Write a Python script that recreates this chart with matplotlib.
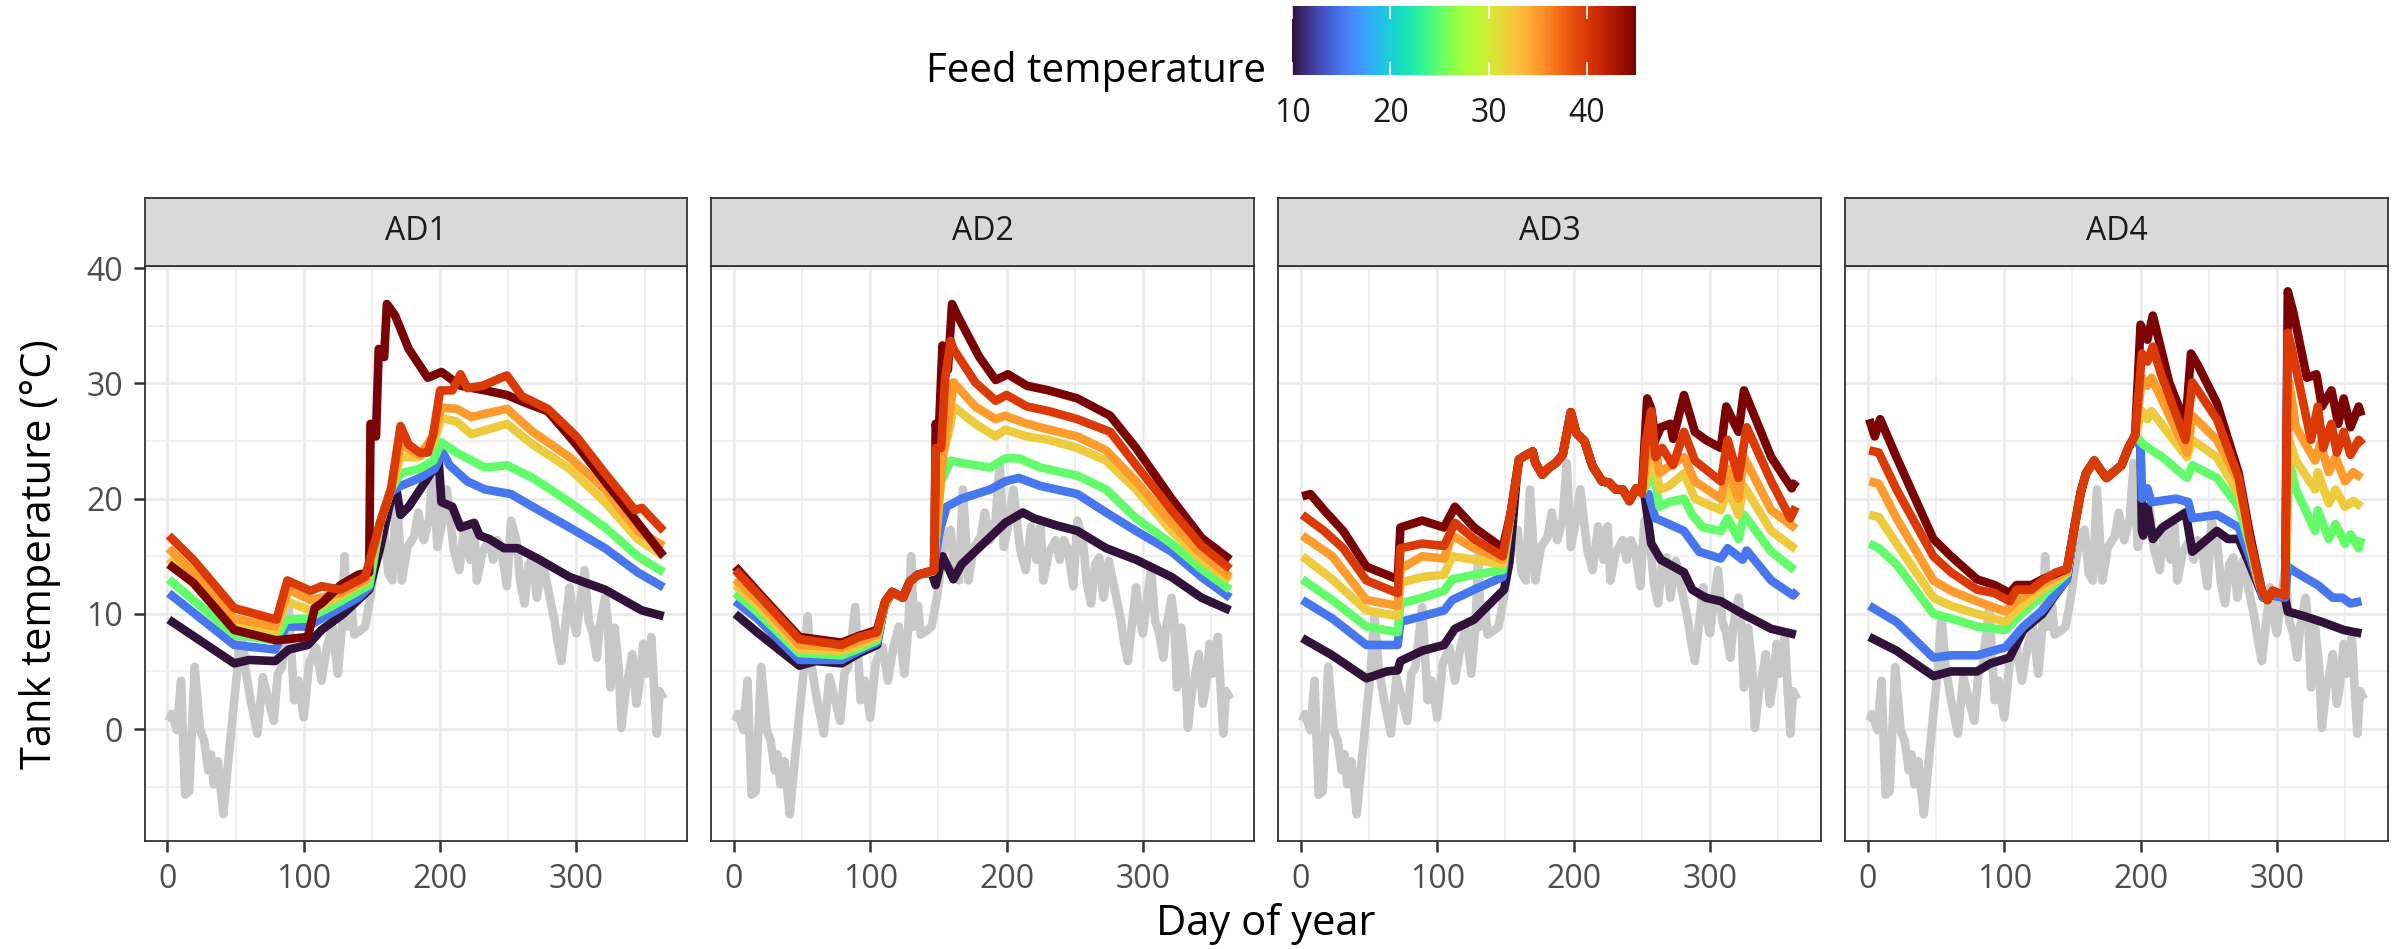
import numpy as np
import matplotlib
matplotlib.use("Agg")
import matplotlib.pyplot as plt
from matplotlib.colors import Normalize
from matplotlib.cm import ScalarMappable

plt.rcParams['font.family'] = ['Open Sans', 'DejaVu Sans']

# ---- data: (day of year, temperature) ----
AMBIENT = [(1, 0.7), (3, 1.3), (7, -0.1), (10, 4.2), (13, -5.7), (16, -5.4), (20, 5.4), (24, -0.1),
           (27, -1.0), (30, -3.6), (32, -2.2), (34, -4.8), (37, -2.8), (41, -7.4), (43, -4.8), (47, 0.1),
           (51, 4.8), (54, 9.8), (57, 5.4), (61, 2.5), (66, -0.4), (70, 4.5), (73, 3.1), (78, 0.7),
           (81, 4.8), (84, 5.4), (89, 10.6), (93, 2.5), (96, 4.2), (100, 1.0), (104, 5.7), (109, 7.1),
           (113, 4.2), (117, 7.1), (121, 8.9), (125, 4.8), (128, 8.9), (130, 15.0), (132, 8.9), (135, 10.7),
           (137, 8.2), (141, 8.5), (145, 8.9), (149, 11.5), (152, 14.1), (156, 17.0), (159, 17.3), (162, 13.5),
           (165, 12.9), (168, 20.8), (172, 12.9), (176, 15.8), (181, 16.7), (184, 18.8), (188, 16.4), (192, 18.2),
           (195, 23.1), (198, 15.8), (201, 17.6), (205, 20.8), (210, 15.6), (214, 13.8), (218, 17.6), (222, 14.7),
           (225, 17.6), (227, 12.9), (231, 15.3), (236, 16.4), (239, 14.7), (242, 16.4), (245, 15.6), (249, 12.4),
           (252, 18.1), (256, 16.4), (259, 12.6), (262, 10.9), (265, 14.3), (268, 14.9), (271, 11.4), (275, 14.6),
           (279, 12.3), (284, 9.4), (286, 7.7), (289, 5.9), (292, 9.1), (295, 12.3), (298, 9.4), (300, 8.3),
           (302, 10.3), (306, 13.8), (309, 9.4), (312, 8.3), (315, 6.2), (317, 8.8), (321, 11.4), (323, 9.4),
           (325, 3.6), (328, 8.8), (331, 5.4), (333, 0.1), (336, 3.3), (338, 4.5), (341, 6.5), (344, 2.2),
           (346, 3.6), (349, 7.4), (351, 4.8), (355, 8.0), (357, 3.6), (359, -0.4), (361, 3.3), (364, 2.6)]

# AD1
AD1_F10 = [(1, 9.5), (20, 8.0), (49, 5.7), (60, 6.0), (79, 5.9), (89, 6.9), (103, 7.3), (113, 8.6), (129, 10.0),
           (148, 12.1), (156, 15.7), (164, 20.0), (168, 20.8), (171, 18.6), (177, 19.3), (191, 21.8), (199, 23.3),
           (201, 19.7), (209, 19.3), (215, 17.5), (225, 17.9), (229, 16.8), (236, 16.5), (247, 15.7), (257, 15.7),
           (273, 14.7), (295, 13.2), (321, 12.1), (348, 10.3), (364, 9.8)]
AD1_F15 = [(1, 11.8), (17, 10.3), (49, 7.3), (79, 6.9), (87, 8.9), (103, 8.9), (119, 10.0), (140, 11.4), (148, 12.3),
           (156, 17.9), (163, 20.5), (171, 21.1), (185, 21.8), (196, 22.6), (202, 24.0), (207, 22.9), (220, 21.5),
           (233, 20.8), (252, 20.4), (268, 19.3), (295, 17.5), (321, 15.7), (345, 13.6), (364, 12.3)]
AD1_F25 = [(1, 13.0), (17, 11.4), (49, 8.2), (79, 7.7), (87, 9.5), (103, 9.6), (121, 10.7), (148, 12.5), (156, 17.9),
           (164, 20.8), (171, 22.2), (185, 22.6), (195, 23.3), (201, 24.9), (212, 24.0), (233, 22.7), (249, 22.9),
           (268, 21.8), (295, 19.7), (321, 17.5), (345, 15.0), (364, 13.6)]
AD1_F30 = [(1, 14.8), (17, 12.9), (49, 8.9), (79, 8.4), (87, 11.1), (105, 10.3), (124, 11.4), (146, 12.9), (156, 17.9),
           (164, 20.8), (171, 23.6), (185, 23.6), (195, 24.8), (201, 27.0), (212, 26.7), (223, 25.6), (249, 26.5),
           (268, 24.7), (295, 22.6), (321, 19.7), (345, 16.5), (364, 15.0)]
AD1_F35 = [(1, 15.7), (17, 13.8), (49, 9.6), (79, 8.9), (89, 12.1), (105, 11.2), (127, 11.8), (146, 13.0), (156, 17.9),
           (164, 20.8), (171, 24.7), (185, 23.8), (195, 25.4), (201, 27.9), (212, 27.8), (223, 27.1), (249, 27.8),
           (268, 25.8), (295, 23.6), (321, 20.8), (345, 17.2), (364, 15.9)]
AD1_F40 = [(1, 16.8), (19, 14.7), (49, 10.5), (80, 9.5), (88, 12.9), (105, 12.0), (113, 12.4), (127, 12.1), (145, 13.2),
           (156, 17.9), (164, 20.8), (171, 26.3), (177, 24.7), (185, 24.0), (191, 24.0), (195, 25.6), (200, 29.4),
           (209, 29.4), (215, 30.8), (220, 29.6), (231, 29.8), (249, 30.7), (260, 28.9), (279, 27.8), (300, 25.4),
           (321, 22.2), (343, 19.0), (348, 19.2), (364, 17.2)]
AD1_F45 = [(1, 14.3), (19, 12.7), (49, 8.6), (80, 7.7), (103, 8.0), (108, 10.5), (113, 10.9), (127, 12.5), (140, 13.4),
           (148, 13.6), (149, 26.5), (153, 25.4), (155, 33.0), (159, 32.3), (161, 36.9), (167, 35.9), (177, 33.0),
           (191, 30.5), (201, 31.0), (215, 29.8), (233, 29.4), (249, 29.0), (263, 28.3), (279, 27.6), (300, 24.7),
           (321, 21.5), (345, 17.9), (364, 15.0)]

# AD2
AD2_EARLY = [(116, 11.9), (124, 11.4), (129, 12.8), (135, 13.4)]
AD2_F10 = [(1, 10.0), (17, 8.4), (48, 5.5), (60, 5.9), (79, 5.7), (92, 6.6), (105, 7.3), (110, 10.5)] + AD2_EARLY + \
          [(145, 13.6), (148, 12.5), (153, 15.0), (158, 13.8), (161, 13.0), (167, 14.3), (183, 16.1), (199, 17.9),
           (212, 18.8), (220, 18.3), (236, 17.7), (252, 17.2), (273, 15.7), (295, 14.7), (321, 13.2), (343, 11.4),
           (364, 10.3)]
AD2_F15 = [(1, 11.1), (17, 9.6), (48, 6.0), (79, 6.0), (92, 6.8), (105, 7.5), (110, 10.5)] + AD2_EARLY + \
          [(146, 13.7), (151, 17.2), (156, 19.3), (167, 20.0), (188, 20.8), (199, 21.5), (209, 21.8), (225, 21.1),
           (252, 20.4), (273, 18.8), (295, 17.2), (321, 15.4), (343, 13.2), (364, 11.4)]
AD2_F25 = [(1, 11.8), (17, 10.2), (48, 6.6), (79, 6.4), (92, 7.0), (105, 7.7), (110, 10.5)] + AD2_EARLY + \
          [(146, 13.7), (152, 21.5), (159, 23.3), (167, 23.1), (188, 22.7), (199, 23.5), (209, 23.5), (225, 22.7),
           (252, 22.0), (273, 20.8), (295, 18.3), (321, 16.1), (343, 13.9), (364, 12.1)]
AD2_F30 = [(1, 12.5), (17, 10.8), (48, 6.9), (79, 6.8), (92, 7.3), (105, 8.0), (110, 10.6)] + AD2_EARLY + \
          [(146, 13.7), (153, 23.6), (159, 26.5), (161, 28.0), (177, 26.5), (192, 25.4), (199, 26.0), (215, 25.4),
           (231, 25.1), (252, 24.4), (273, 23.3), (295, 20.8), (321, 17.2), (343, 14.7), (364, 12.9)]
AD2_F35 = [(1, 13.0), (17, 11.2), (48, 7.3), (79, 7.1), (92, 7.6), (105, 8.2), (110, 10.8)] + AD2_EARLY + \
          [(146, 13.7), (153, 23.3), (159, 28.0), (161, 30.1), (177, 28.0), (192, 26.9), (199, 27.2), (215, 26.5),
           (231, 26.0), (252, 25.4), (273, 24.2), (295, 21.5), (321, 17.9), (343, 15.2), (364, 13.2)]
AD2_F40 = [(1, 13.8), (20, 11.4), (48, 7.8), (79, 7.3), (92, 8.0), (105, 8.4), (111, 11.1)] + AD2_EARLY + \
          [(147, 13.8), (148, 24.4), (152, 24.4), (155, 30.5), (159, 33.7), (161, 33.0), (177, 30.1), (192, 28.5),
           (200, 29.0), (215, 28.0), (231, 27.6), (252, 26.9), (276, 25.8), (295, 22.9), (321, 19.0), (343, 15.9),
           (364, 13.9)]
AD2_F45 = [(1, 14.1), (20, 11.6), (48, 8.0), (79, 7.5), (92, 8.1), (105, 8.6), (111, 11.1)] + AD2_EARLY + \
          [(147, 13.8), (148, 26.5), (150, 25.0), (153, 33.3), (157, 31.2), (160, 36.9), (164, 35.9), (180, 32.3),
           (192, 30.3), (201, 30.8), (215, 29.8), (231, 29.4), (252, 28.7), (276, 27.2), (295, 24.4), (321, 20.0),
           (343, 16.6), (364, 14.7)]

# AD3
AD3_MERGED = [(160, 23.4), (164, 23.7), (170, 24.1), (172, 23.1), (177, 22.1), (182, 22.7), (187, 23.1), (192, 23.8),
              (198, 27.5), (202, 25.7), (208, 25.0), (214, 22.8), (221, 21.5), (226, 21.4), (231, 20.8), (236, 20.8),
              (241, 19.8), (246, 20.9), (250, 20.5)]
AD3_F10 = [(1, 7.9), (23, 6.4), (48, 4.4), (63, 5.0), (71, 5.1), (73, 5.9), (89, 6.8), (105, 7.3), (113, 8.7),
           (127, 9.5), (143, 11.4), (149, 12.1), (153, 14.5), (158, 21.5)] + AD3_MERGED + \
          [(252, 20.4), (257, 16.1), (264, 14.7), (281, 13.6), (287, 12.1), (297, 11.4), (308, 11.1), (324, 10.0),
           (345, 8.7), (363, 8.2)]
AD3_F15 = [(1, 11.2), (23, 9.6), (48, 7.3), (71, 7.3), (73, 9.3), (89, 9.8), (105, 10.3), (111, 11.2), (127, 12.1),
           (148, 13.2), (154, 18.8)] + AD3_MERGED + \
          [(255, 20.4), (260, 18.3), (268, 17.9), (281, 17.2), (292, 15.4), (308, 14.8), (313, 15.7), (324, 14.7),
           (327, 15.5), (345, 12.9), (361, 11.6), (364, 12.0)]
AD3_F25 = [(1, 13.0), (23, 11.2), (48, 8.9), (71, 8.4), (73, 10.9), (89, 11.4), (105, 12.0), (111, 13.0), (127, 13.4),
           (148, 13.8), (154, 18.8)] + AD3_MERGED + \
          [(255, 21.5), (257, 23.6), (263, 19.3), (270, 19.7), (281, 20.0), (287, 18.6), (295, 17.5), (308, 17.2),
           (313, 18.3), (321, 16.5), (325, 18.6), (345, 15.4), (362, 13.8)]
AD3_F30 = [(1, 15.0), (23, 13.0), (48, 10.3), (71, 9.8), (73, 12.7), (89, 13.2), (105, 13.4), (111, 15.0), (127, 14.7),
           (148, 14.3), (154, 18.8)] + AD3_MERGED + \
          [(255, 22.2), (257, 25.0), (263, 20.8), (270, 21.1), (281, 22.2), (289, 20.0), (308, 19.0), (313, 20.8),
           (321, 18.6), (325, 21.1), (345, 17.2), (363, 15.6)]
AD3_F35 = [(1, 16.8), (23, 15.0), (48, 11.2), (71, 10.7), (73, 13.9), (89, 15.0), (105, 14.8), (111, 16.8), (127, 15.7),
           (148, 14.7), (154, 18.8)] + AD3_MERGED + \
          [(254, 24.0), (257, 26.5), (263, 22.2), (271, 22.9), (281, 23.6), (289, 21.5), (308, 20.0), (313, 22.6),
           (321, 20.0), (325, 23.6), (345, 19.0), (363, 17.4)]
AD3_F40 = [(1, 18.6), (17, 17.2), (31, 15.7), (48, 12.9), (71, 11.8), (73, 15.7), (89, 16.1), (105, 15.9), (113, 17.9),
           (127, 16.5), (148, 15.0), (154, 18.8)] + AD3_MERGED + \
          [(253, 25.0), (257, 27.6), (260, 23.6), (265, 24.4), (273, 22.9), (281, 25.8), (289, 23.3), (308, 21.5),
           (313, 25.1), (321, 21.8), (327, 26.2), (345, 21.5), (359, 18.3), (363, 19.3)]
AD3_F45 = [(1, 20.2), (7, 20.4), (17, 19.0), (31, 17.2), (48, 14.1), (71, 13.0), (73, 17.5), (89, 18.1), (105, 17.5),
           (113, 19.3), (127, 17.5), (148, 15.7), (154, 18.8)] + AD3_MERGED + \
          [(254, 28.7), (257, 27.8), (260, 25.1), (264, 26.2), (271, 26.5), (273, 25.2), (281, 29.0), (289, 25.8),
           (297, 25.1), (308, 24.4), (312, 28.0), (321, 25.8), (325, 29.4), (345, 23.6), (360, 20.9), (361, 21.3),
           (364, 21.0)]

# AD4
AD4_MERGED = [(151, 17.2), (156, 20.5), (160, 22.2), (166, 23.3), (170, 22.6), (175, 21.8), (181, 22.4), (186, 22.9),
              (191, 24.4), (196, 25.5)]
AD4_LATE = [(289, 12.0), (293, 11.2), (297, 12.0), (301, 11.8), (306, 11.6)]
AD4_F10 = [(1, 8.0), (21, 6.8), (48, 4.6), (61, 5.0), (80, 5.0), (90, 5.7), (104, 6.2), (114, 8.6), (128, 10.0),
           (136, 11.4), (146, 13.0)] + AD4_MERGED + \
          [(200, 24.5), (201, 17.2), (202, 16.8), (205, 19.3), (209, 16.5), (216, 17.5), (233, 18.8), (238, 15.4),
           (245, 16.1), (256, 17.2), (264, 16.5), (272, 16.5), (280, 14.3), (290, 11.4), (297, 11.6), (306, 11.4),
           (308, 10.2), (320, 9.8), (333, 9.3), (349, 8.6), (362, 8.3)]
AD4_F15 = [(1, 10.7), (21, 9.3), (48, 6.2), (61, 6.4), (80, 6.4), (101, 7.1), (114, 8.9), (128, 10.3), (146, 13.0)] + \
          AD4_MERGED + \
          [(200, 24.5), (201, 20.0), (205, 20.9), (208, 19.7), (226, 20.0), (235, 19.7), (238, 18.3), (256, 18.6),
           (272, 17.5), (280, 15.0), (290, 11.4), (297, 11.6), (306, 11.4), (308, 14.1), (314, 13.6), (330, 12.5),
           (341, 11.4), (348, 11.4), (354, 10.9), (362, 11.1)]
AD4_F25 = [(1, 16.1), (8, 15.7), (21, 14.3), (48, 10.0), (61, 9.6), (80, 8.9), (101, 8.6), (109, 9.6), (128, 11.6),
           (146, 13.5)] + AD4_MERGED + \
          [(202, 24.7), (216, 23.6), (234, 21.8), (238, 22.9), (256, 21.8), (272, 19.3), (280, 16.0), (286, 13.0)] + \
          AD4_LATE + \
          [(309, 23.3), (314, 20.8), (328, 17.2), (330, 19.0), (338, 16.5), (343, 17.8), (350, 16.1), (354, 16.9),
           (360, 15.7), (362, 16.6)]
AD4_F30 = [(1, 18.6), (8, 18.4), (21, 16.1), (48, 11.4), (61, 10.7), (80, 10.0), (101, 9.3), (109, 10.3), (128, 12.1),
           (146, 13.6)] + AD4_MERGED + \
          [(201, 27.6), (205, 26.9), (208, 27.6), (234, 23.6), (238, 25.1), (256, 23.6), (272, 20.4), (280, 16.5),
           (286, 13.0)] + AD4_LATE + \
          [(309, 25.1), (314, 23.3), (328, 20.8), (330, 22.3), (338, 19.6), (343, 20.8), (350, 19.3), (356, 19.8),
           (362, 19.3)]
AD4_F35 = [(1, 21.5), (8, 21.3), (21, 18.3), (48, 12.9), (61, 12.0), (80, 11.1), (101, 10.2), (109, 11.1), (128, 12.6),
           (146, 13.7)] + AD4_MERGED + \
          [(201, 30.5), (205, 29.8), (208, 30.5), (234, 24.0), (238, 27.2), (256, 25.1), (272, 21.5), (280, 17.0),
           (286, 13.0)] + AD4_LATE + \
          [(309, 30.1), (314, 26.2), (328, 23.3), (332, 24.8), (338, 22.3), (343, 23.6), (350, 21.5), (356, 22.3),
           (362, 21.8)]
AD4_F40 = [(1, 24.2), (8, 24.0), (21, 20.8), (48, 15.0), (61, 13.6), (80, 12.1), (93, 11.8), (104, 11.1), (109, 12.1),
           (120, 12.1), (128, 12.9), (138, 13.6), (146, 13.9)] + AD4_MERGED + \
          [(201, 32.6), (205, 31.9), (209, 33.2), (215, 30.8), (233, 25.1), (238, 30.1), (256, 26.9), (272, 21.8),
           (280, 16.5)] + AD4_LATE + \
          [(308, 34.4), (311, 33.0), (325, 25.1), (330, 28.0), (334, 24.4), (340, 26.5), (344, 24.0), (349, 25.8),
           (354, 23.8), (360, 25.1), (363, 24.7)]
AD4_F45 = [(1, 26.9), (5, 25.4), (9, 26.9), (21, 23.6), (48, 16.5), (61, 15.0), (80, 13.0), (93, 12.5), (104, 11.8),
           (109, 12.5), (120, 12.5), (128, 13.0), (146, 13.9)] + AD4_MERGED + \
          [(200, 35.1), (205, 33.8), (209, 35.9), (221, 30.1), (233, 26.5), (237, 32.6), (242, 31.6), (256, 28.3),
           (272, 22.2), (280, 17.0)] + AD4_LATE + \
          [(308, 38.0), (312, 36.2), (322, 30.5), (329, 30.8), (333, 28.0), (340, 29.4), (345, 26.5), (349, 28.7),
           (354, 26.2), (360, 28.0), (362, 27.2)]

PANELS = ['AD1', 'AD2', 'AD3', 'AD4']
FEED_TEMPS = [10, 15, 25, 30, 35, 45, 40]   # draw order, 40 ends up on top
# line colours as they appear on the reference (turbo scale, 10-45)
LINE_COLOURS = {10: '#30123B', 15: '#4777EF', 25: '#62FC6B', 30: '#EDCB3D',
                35: '#FE9B2D', 40: '#DB3A07', 45: '#7A0403'}
SERIES = {
    'AD1': {10: AD1_F10, 15: AD1_F15, 25: AD1_F25, 30: AD1_F30, 35: AD1_F35, 40: AD1_F40, 45: AD1_F45},
    'AD2': {10: AD2_F10, 15: AD2_F15, 25: AD2_F25, 30: AD2_F30, 35: AD2_F35, 40: AD2_F40, 45: AD2_F45},
    'AD3': {10: AD3_F10, 15: AD3_F15, 25: AD3_F25, 30: AD3_F30, 35: AD3_F35, 40: AD3_F40, 45: AD3_F45},
    'AD4': {10: AD4_F10, 15: AD4_F15, 25: AD4_F25, 30: AD4_F30, 35: AD4_F35, 40: AD4_F40, 45: AD4_F45},
}

W, H = 2408, 949
fig = plt.figure(figsize=(W / 100, H / 100), dpi=100)


def px_box(x0, y0, x1, y1):
    return [x0 / W, 1 - y1 / H, (x1 - x0) / W, (y1 - y0) / H]


cmap = plt.get_cmap('turbo')
norm = Normalize(10, 45)
border = '#333333'
grid_col = '#EBEBEB'
lw = 6.2
panel_lefts = [144.5, 711, 1278, 1845]
panel_w = 543
panel_top, panel_bot, strip_top = 266, 841, 197.5

amb = np.array(AMBIENT)
for i, name in enumerate(PANELS):
    left = panel_lefts[i]
    ax = fig.add_axes(px_box(left, panel_top, left + panel_w, panel_bot))
    ax.set_xlim(-16.8, 381.5)
    ax.set_ylim(-9.72, 40.2)
    ax.set_xticks([0, 100, 200, 300])
    ax.set_xticks([50, 150, 250, 350], minor=True)
    ax.set_yticks([0, 10, 20, 30, 40])
    ax.set_yticks([-5, 5, 15, 25, 35], minor=True)
    ax.grid(which='major', color=grid_col, lw=2.0)
    ax.grid(which='minor', color=grid_col, lw=1.1)
    ax.set_axisbelow(True)
    ax.tick_params(which='minor', length=0)
    ax.tick_params(which='major', length=8, width=1.8, color=border, labelsize=23,
                   labelcolor='#4D4D4D', pad=7.5)
    if i > 0:
        ax.tick_params(axis='y', left=False, labelleft=False)
    for sp in ax.spines.values():
        sp.set_color(border)
        sp.set_linewidth(1.3)

    ax.plot(amb[:, 0], amb[:, 1], color='#C8C8C8', lw=lw,
            solid_joinstyle='round', solid_capstyle='butt')
    for ft in FEED_TEMPS:
        d = np.array(SERIES[name][ft])
        ax.plot(d[:, 0], d[:, 1], color=LINE_COLOURS[ft], lw=lw,
                solid_joinstyle='round', solid_capstyle='butt')

    sax = fig.add_axes(px_box(left, strip_top, left + panel_w, panel_top))
    sax.set_facecolor('#D9D9D9')
    sax.set_xticks([])
    sax.set_yticks([])
    for sp in sax.spines.values():
        sp.set_color(border)
        sp.set_linewidth(1.3)
    sax.text(0.5, 0.5, name, ha='center', va='center', fontsize=23, color='#1A1A1A',
             transform=sax.transAxes)

# colour bar legend
cax = fig.add_axes(px_box(1292, 6, 1636, 75))
cb = fig.colorbar(ScalarMappable(norm=norm, cmap=cmap), cax=cax, orientation='horizontal',
                  ticks=[10, 20, 30, 40])
cb.outline.set_visible(False)
cax.tick_params(axis='x', direction='in', length=9.5, width=1.2, color='white', top=True,
                bottom=True, labelsize=23, labelcolor='#1A1A1A', pad=16)
fig.text(1266 / W, 1 - 82 / H, 'Feed temperature', ha='right', va='baseline', fontsize=29,
         color='#000000')

fig.text(1266 / W, 1 - 935 / H, 'Day of year', ha='center', va='baseline', fontsize=30)
fig.text(40 / W, 1 - 554.6 / H, 'Tank temperature (°C)', ha='center', va='center',
         rotation=90, fontsize=30)

fig.savefig('out.png', dpi=100)
